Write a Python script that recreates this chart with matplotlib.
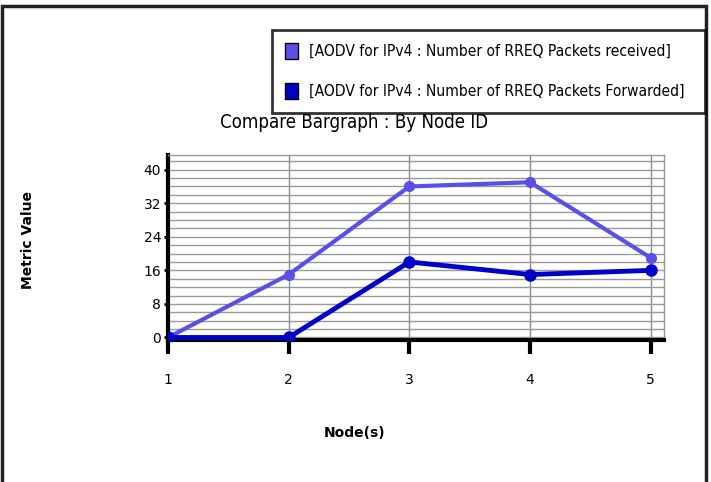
import matplotlib
matplotlib.use("Agg")
import matplotlib.pyplot as plt
from matplotlib.patches import Patch, Rectangle

nodes = [1, 2, 3, 4, 5]
received = [0, 15, 36, 37, 19]
forwarded = [0, 0, 18, 15, 16]
yticks = [0, 8, 16, 24, 32, 40]
labels = ["[AODV for IPv4 : Number of RREQ Packets received]",
          "[AODV for IPv4 : Number of RREQ Packets Forwarded]"]
c_recv = "#5A50E8"
c_fwd = "#0000C8"

W, H = 711, 482
fig = plt.figure(figsize=(W / 100, H / 100), dpi=100)

# outer frame
fig.add_artist(Rectangle((2 / W, -0.01), (706 - 2) / W, 1 - 6 / H + 0.01,
                         transform=fig.transFigure, fill=False,
                         edgecolor="#222222", linewidth=2.5))

L, R, T, B = 168, 664, 155, 340
ax = fig.add_axes([L / W, 1 - B / H, (R - L) / W, (B - T) / H])
ax.plot(nodes, received, color=c_recv, lw=3, marker="o", ms=7, zorder=3)
ax.plot(nodes, forwarded, color=c_fwd, lw=3.5, marker="o", ms=8, zorder=4)

ax.set_xlim(1, 5.11)
ax.set_ylim(-0.6, 43.5)
ax.set_xticks(nodes)
ax.set_yticks(yticks)
ax.set_yticks(range(0, 44, 2), minor=True)
ax.grid(True, which="both", axis="y", color="#9a9a9a", lw=1)
ax.grid(True, which="major", axis="x", color="#8a8a8a", lw=1)
ax.tick_params(axis="x", length=10, width=3, pad=14, labelsize=10)
ax.tick_params(axis="y", length=3, width=2, pad=2, labelsize=10)
ax.tick_params(axis="y", which="minor", length=0)
for s in ["left", "bottom"]:
    ax.spines[s].set_linewidth(3)
for s in ["top", "right"]:
    ax.spines[s].set_color("#9a9a9a")
    ax.spines[s].set_linewidth(1)

fig.text(354 / W, 1 - 122 / H, "Compare Bargraph : By Node ID", ha="center",
         va="center", fontsize=13.4, stretch="condensed")
fig.text(28 / W, 1 - 240 / H, "Metric Value", rotation=90, ha="center",
         va="center", fontsize=10, fontweight="bold")
fig.text(355 / W, 1 - 433 / H, "Node(s)", ha="center", va="center",
         fontsize=10, fontweight="bold")

handles = [Patch(facecolor=c_recv, edgecolor="black", lw=1),
           Patch(facecolor=c_fwd, edgecolor="black", lw=1)]
leg = fig.legend(handles, labels, loc="upper left",
                 bbox_to_anchor=(272 / W, 1 - 30 / H, 433 / W, 0.001),
                 mode="expand", prop={"stretch": "condensed", "size": 11.2},
                 frameon=True, fancybox=False, labelspacing=1.55,
                 handlelength=0.8, handleheight=1.2, borderpad=0.85,
                 handletextpad=0.7, borderaxespad=0)
leg.get_frame().set_edgecolor("black")
leg.get_frame().set_linewidth(2)
leg.set_zorder(10)

fig.savefig("out.png", dpi=100)
